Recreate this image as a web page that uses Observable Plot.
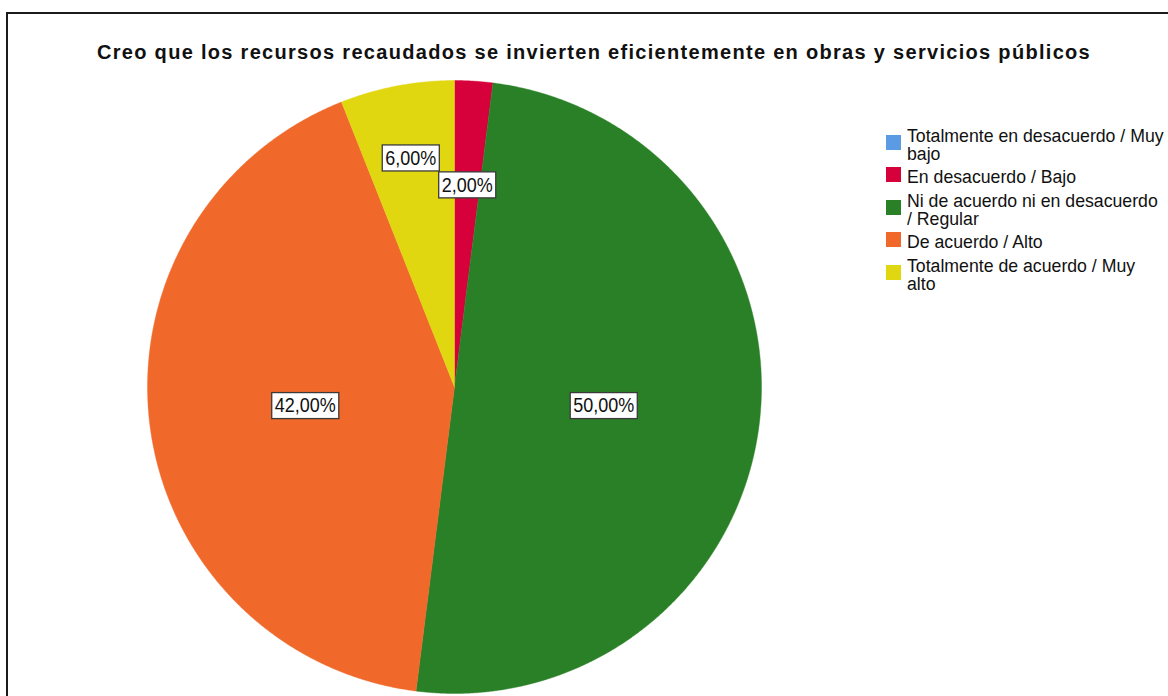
<!DOCTYPE html>
<html><head><meta charset="utf-8">
<script src="https://cdn.jsdelivr.net/npm/d3@7"></script>
<script src="https://cdn.jsdelivr.net/npm/@observablehq/plot@0.6"></script>
<style>
html,body{margin:0;padding:0;background:#fff;width:1168px;height:696px;overflow:hidden;font-family:"Liberation Sans",Arial,sans-serif}
#frame{position:absolute;left:6px;top:12px;width:1220px;height:740px;border:2px solid #1b1b1b;box-sizing:border-box}
#chart{position:absolute;left:0;top:0}
#title{position:absolute;left:0;width:1188px;top:41px;text-align:center;font-weight:bold;font-size:20px;letter-spacing:1.3px;color:#111;white-space:nowrap}
#legend{position:absolute;left:886px;top:128px;width:300px}
.item{display:flex;align-items:center;margin-bottom:7px}
.sw{width:15px;height:15px;flex:none;margin-right:6px;position:relative;top:-3px}
.lab{font-size:17.7px;line-height:17px;color:#111;white-space:pre;transform:scaleY(1.08)}
</style></head><body>
<div id="frame"></div>
<div id="chart"></div>
<div id="title"></div>
<div id="legend"></div>
<script>
const title = "Creo que los recursos recaudados se invierten eficientemente en obras y servicios públicos";
const categories = [
  "Totalmente en desacuerdo / Muy bajo",
  "En desacuerdo / Bajo",
  "Ni de acuerdo ni en desacuerdo / Regular",
  "De acuerdo / Alto",
  "Totalmente de acuerdo / Muy alto"
];
// legend text as wrapped in the original
const legendLabels = [
  "Totalmente en desacuerdo / Muy\nbajo",
  "En desacuerdo / Bajo",
  "Ni de acuerdo ni en desacuerdo\n/ Regular",
  "De acuerdo / Alto",
  "Totalmente de acuerdo / Muy\nalto"
];
const percents = [0, 2, 50, 42, 6];
const colors = ["#5b9be3", "#d6003b", "#2a8027", "#f0682a", "#e0d710"];

document.getElementById("title").textContent = title;

// slice geometry (angles from 12 o'clock, clockwise)
const total = d3.sum(percents);
let acc = 0;
const slices = categories.map((c, i) => {
  const a0 = acc / total * 2 * Math.PI;
  acc += percents[i];
  const a1 = acc / total * 2 * Math.PI;
  return {cat: c, p: percents[i], a0, a1};
}).filter(s => s.p > 0);

const poly = [];
for (const s of slices) {
  poly.push({cat: s.cat, x: 0, y: 0});
  const n = Math.max(2, Math.ceil((s.a1 - s.a0) / (Math.PI / 720)));
  for (let k = 0; k <= n; k++) {
    const a = s.a0 + (s.a1 - s.a0) * k / n;
    poly.push({cat: s.cat, x: Math.sin(a), y: Math.cos(a)});
  }
  poly.push({cat: s.cat, x: 0, y: 0});
}

// label placement with simple outward push to avoid overlaps
const R = 307; // px per data unit
const fmt = p => d3.format(".2f")(p).replace(".", ",") + "%";
const labels = [];
for (const s of slices) {
  const mid = (s.a0 + s.a1) / 2;
  const text = fmt(s.p);
  const hw = (text.length * 10.5 + 6) / 2, hh = 13;
  let f = s.p >= 10 ? 0.49 : 0.66;
  const pos = f => ({x: Math.sin(mid) * f, y: Math.cos(mid) * f});
  const hit = q => labels.some(l => Math.abs((l.x - q.x) * R) < l.hw + hw && Math.abs((l.y - q.y) * R) < l.hh + hh);
  while (hit(pos(f)) && f < 0.95) f += 0.01;
  labels.push({...pos(f), text, hw, hh});
}

const chart = Plot.plot({
  width: 1168,
  height: 696,
  marginLeft: 147,
  marginRight: 407,
  marginTop: 80,
  marginBottom: 3,
  x: {domain: [-1, 1], axis: null},
  y: {domain: [-1, 1], axis: null},
  color: {domain: categories, range: colors},
  style: {background: "transparent", overflow: "visible"},
  marks: [
    Plot.line(poly, {x: "x", y: "y", z: "cat", fill: "cat", stroke: "cat", strokeWidth: 0.4}),
    Plot.text(labels, {x: "x", y: "y", text: "text", fontSize: 18, fill: "#111", fontFamily: "Liberation Sans, Arial, sans-serif", className: "pct-labels"})
  ]
});
document.getElementById("chart").appendChild(chart);

// white boxes behind the percentage labels (text slightly stretched vertically like the original)
chart.querySelectorAll(".pct-labels text").forEach(t => {
  const b0 = t.getBBox();
  const cx = b0.x + b0.width / 2, cy = b0.y + b0.height / 2;
  const st = `translate(${cx},${cy}) scale(1,1.12) translate(${-cx},${-cy})`;
  const prev = t.getAttribute("transform") || "";
  t.setAttribute("transform", (prev + " " + st).trim());
  const r = document.createElementNS("http://www.w3.org/2000/svg", "rect");
  r.setAttribute("x", b0.x - 3);
  r.setAttribute("y", cy - 13);
  r.setAttribute("width", b0.width + 6);
  r.setAttribute("height", 26);
  r.setAttribute("fill", "#fff");
  r.setAttribute("stroke", "#3a3a3a");
  r.setAttribute("stroke-width", 1.3);
  if (prev) r.setAttribute("transform", prev);
  t.parentNode.insertBefore(r, t);
});

// legend
const leg = d3.select("#legend");
categories.forEach((c, i) => {
  const it = leg.append("div").attr("class", "item");
  it.append("div").attr("class", "sw").style("background", colors[i]);
  it.append("div").attr("class", "lab").text(legendLabels[i]);
});
</script>
</body></html>
